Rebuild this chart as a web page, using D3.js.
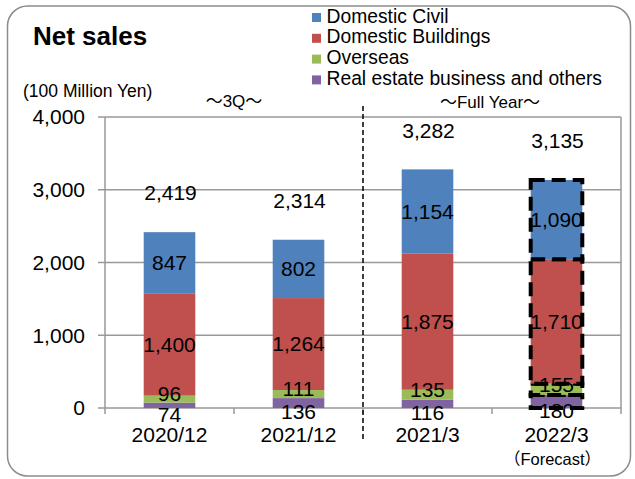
<!DOCTYPE html>
<html>
<head>
<meta charset="utf-8">
<title>Net sales</title>
<script src="https://d3js.org/d3.v7.min.js"></script>
<style>
  body { margin: 0; background: #fff; }
  svg text { font-family: "Liberation Sans", Arial, sans-serif; fill: #000; }
  .wave { font-family: "Noto Sans CJK JP", sans-serif; }
</style>
</head>
<body>
<script>
// data
const categories = ["2020/12", "2021/12", "2021/3", "2022/3"];
const seriesNames = ["Domestic Civil", "Domestic Buildings", "Overseas", "Real estate business and others"];
const civil = [847, 802, 1154, 1090];
const buildings = [1400, 1264, 1875, 1710];
const overseas = [96, 111, 135, 155];
const realEstate = [74, 136, 116, 180];
const totals = [2419, 2314, 3282, 3135];
const yTicks = [0, 1000, 2000, 3000, 4000];
const colors = ["#4f81bd", "#c0504d", "#9bbb59", "#8064a2"];

const w = 635, h = 479;
const svg = d3.select("body").append("svg")
    .attr("width", w)
    .attr("height", h);

// rounded frame
svg.append("rect")
    .attr("x", 7.5).attr("y", 6)
    .attr("width", 623).attr("height", 470)
    .attr("rx", 20)
    .attr("fill", "none")
    .attr("stroke", "#8c8c8c")
    .attr("stroke-width", 1.5);

svg.append("text")
    .attr("x", 33).attr("y", 45)
    .attr("font-size", 26).attr("font-weight", "bold")
    .text("Net sales");

svg.append("text")
    .attr("x", 23).attr("y", 97)
    .attr("font-size", 17.5)
    .text("(100 Million Yen)");

const xScale = d3.scaleBand()
    .domain(categories)
    .range([105, 621])
    .paddingInner(0.6)
    .paddingOuter(0.3);
const yScale = d3.scaleLinear()
    .domain([0, 4000])
    .range([408, 117]);

// gridlines + left ticks
svg.selectAll(".grid")
    .data(yTicks)
    .enter().append("line")
    .attr("x1", 98).attr("x2", 621)
    .attr("y1", d => yScale(d)).attr("y2", d => yScale(d))
    .attr("stroke", "#999").attr("stroke-width", 1.5);

svg.append("line")
    .attr("x1", 105).attr("x2", 105)
    .attr("y1", yScale(4000)).attr("y2", yScale(0))
    .attr("stroke", "#999").attr("stroke-width", 1.5);
svg.append("line")
    .attr("x1", 621).attr("x2", 621)
    .attr("y1", yScale(4000)).attr("y2", yScale(0))
    .attr("stroke", "#999").attr("stroke-width", 1.5);

const fmt = d3.format(",");
svg.selectAll(".ytick")
    .data(yTicks)
    .enter().append("text")
    .attr("x", 85)
    .attr("y", d => yScale(d))
    .attr("dy", "0.35em")
    .attr("text-anchor", "end")
    .attr("font-size", 21)
    .text(d => fmt(d));

// category boundary ticks on the x axis
const step = xScale.step();
const bounds = categories.map(c => xScale(c) - step * 0.3).concat([621]);
svg.selectAll(".xtick")
    .data(bounds)
    .enter().append("line")
    .attr("x1", d => d).attr("x2", d => d)
    .attr("y1", yScale(0)).attr("y2", yScale(0) + 6)
    .attr("stroke", "#999").attr("stroke-width", 1.5);

// stacked bars
const rows = categories.map((c, i) => ({
    cat: c, civil: civil[i], buildings: buildings[i],
    overseas: overseas[i], realEstate: realEstate[i]
}));
const keys = ["realEstate", "overseas", "buildings", "civil"];
const keyColor = { civil: colors[0], buildings: colors[1], overseas: colors[2], realEstate: colors[3] };
const stacked = d3.stack().keys(keys)(rows);

const layers = svg.selectAll(".layer")
    .data(stacked)
    .enter().append("g")
    .attr("fill", d => keyColor[d.key]);

layers.selectAll("rect")
    .data(d => d)
    .enter().append("rect")
    .attr("x", d => xScale(d.data.cat))
    .attr("y", d => yScale(d[1]))
    .attr("width", xScale.bandwidth())
    .attr("height", d => yScale(d[0]) - yScale(d[1]))
    .attr("stroke", d => d.data.cat == "2022/3" ? "#000" : "none")
    .attr("stroke-width", 4)
    .attr("stroke-dasharray", "14,7");

// segment labels
const labelShift = { civil: 0, buildings: 0, overseas: -5, realEstate: 9 };
stacked.forEach(layer => {
    svg.selectAll(".lbl-" + layer.key)
        .data(layer)
        .enter().append("text")
        .attr("x", d => xScale(d.data.cat) + xScale.bandwidth() / 2)
        .attr("y", d => (yScale(d[0]) + yScale(d[1])) / 2 + labelShift[layer.key])
        .attr("dy", "0.35em")
        .attr("text-anchor", "middle")
        .attr("font-size", 21)
        .text(d => fmt(d.data[layer.key]));
});

// totals
svg.selectAll(".total")
    .data(totals)
    .enter().append("text")
    .attr("x", (d, i) => xScale(categories[i]) + xScale.bandwidth() / 2 + 1)
    .attr("y", d => yScale(d) - 39)
    .attr("dy", "0.35em")
    .attr("text-anchor", "middle")
    .attr("font-size", 21)
    .text(d => fmt(d));

// category labels
svg.selectAll(".xlabel")
    .data(categories)
    .enter().append("text")
    .attr("x", d => xScale(d) + xScale.bandwidth() / 2)
    .attr("y", 442)
    .attr("text-anchor", "middle")
    .attr("font-size", 21)
    .text(d => d);

const fc = svg.append("text")
    .attr("x", xScale("2022/3") + xScale.bandwidth() / 2 - 4)
    .attr("y", 465)
    .attr("text-anchor", "middle")
    .attr("font-size", 16.5);
fc.append("tspan").attr("class", "wave").text("（");
fc.append("tspan").text("Forecast");
fc.append("tspan").attr("class", "wave").text("）");

// separator between 3Q and full year
svg.append("line")
    .attr("x1", bounds[2]).attr("x2", bounds[2])
    .attr("y1", 106).attr("y2", 442)
    .attr("stroke", "#000").attr("stroke-width", 1.5)
    .attr("stroke-dasharray", "5,3");

function waveLabel(x, y, label) {
    const t = svg.append("text")
        .attr("x", x).attr("y", y)
        .attr("text-anchor", "middle")
        .attr("font-size", 17);
    t.append("tspan").attr("class", "wave").text("～");
    t.append("tspan").text(label);
    t.append("tspan").attr("class", "wave").text("～");
}
waveLabel((bounds[0] + bounds[2]) / 2, 107, "3Q");
waveLabel((bounds[2] + bounds[4]) / 2 - 2, 108, "Full Year");

// legend
const legend = svg.selectAll(".legend")
    .data(seriesNames)
    .enter().append("g")
    .attr("transform", (d, i) => "translate(312," + (22.5 + i * 20.8) + ")");
legend.append("rect")
    .attr("x", 0).attr("y", -9.5)
    .attr("width", 9).attr("height", 9)
    .attr("fill", (d, i) => colors[i]);
legend.append("text")
    .attr("x", 14.5).attr("y", 0)
    .attr("font-size", 19.3)
    .text(d => d);
</script>
</body>
</html>
